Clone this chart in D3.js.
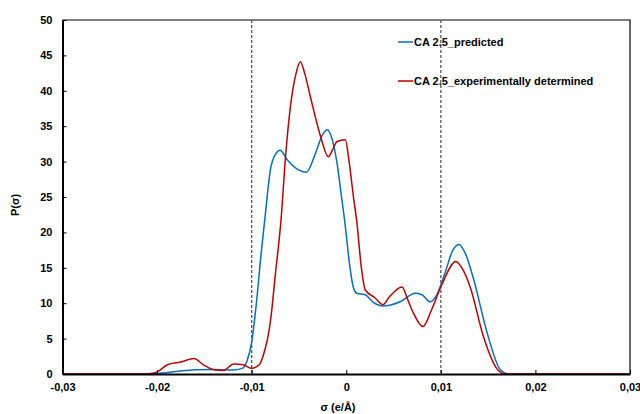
<!DOCTYPE html>
<html>
<head>
<meta charset="utf-8">
<script src="https://cdn.jsdelivr.net/npm/d3@7"></script>
<style>
  body { margin: 0; background: #fff; }
  text { font-family: "Liberation Sans", Arial, sans-serif; font-weight: bold; fill: #000; }
</style>
</head>
<body>
<svg id="chart"></svg>
<script>
// Predicted curve (sigma, P)
const predX = [-0.030, -0.022, -0.020, -0.018, -0.016, -0.014, -0.012, -0.011, -0.0105, -0.010, -0.0095, -0.009, -0.0086, -0.008, -0.0075, -0.0070, -0.0062, -0.0050, -0.0042, -0.0033, -0.0025, -0.0020, -0.0015, -0.0010, -0.0005, -0.0002, 0.0004, 0.0007, 0.0011, 0.0020, 0.0028, 0.0039, 0.0057, 0.0073, 0.0080, 0.0089, 0.0095, 0.0105, 0.0112, 0.0119, 0.0126, 0.0134, 0.0149, 0.0163, 0.0172, 0.030];
const predY = [0, 0, 0.1, 0.35, 0.6, 0.65, 0.55, 0.8, 1.8, 4.5, 10, 17, 22, 29, 31, 31.6, 30.2, 28.8, 28.5, 31, 33.8, 34.5, 33.2, 30, 25, 22, 15, 12.5, 11.4, 11.2, 10.2, 9.6, 10.2, 11.4, 11.2, 10.2, 11, 14.5, 17.3, 18.3, 17, 13.7, 5.8, 0.6, 0, 0];

// Experimentally determined curve
const expX = [-0.030, -0.021, -0.020, -0.0189, -0.0175, -0.0161, -0.0151, -0.0140, -0.0130, -0.0119, -0.0109, -0.0100, -0.0092, -0.0088, -0.0080, -0.0075, -0.0069, -0.0064, -0.0059, -0.0053, -0.00486, -0.0044, -0.0038, -0.0027, -0.0019, -0.0014, -0.0010, -0.0001, 0.0003, 0.0008, 0.0011, 0.0016, 0.0020, 0.0030, 0.0039, 0.0045, 0.0059, 0.0065, 0.0071, 0.0081, 0.0090, 0.0101, 0.0116, 0.0123, 0.0131, 0.0145, 0.0159, 0.0168, 0.030];
const expY = [0, 0, 0.3, 1.3, 1.7, 2.2, 1.3, 0.6, 0.5, 1.4, 1.3, 0.8, 1.3, 2.5, 7.6, 14, 21.7, 31, 37.8, 42.5, 44.1, 42.5, 39.2, 33.5, 30.7, 31.8, 32.8, 33.1, 30, 24.6, 21.7, 15, 11.9, 10.8, 9.8, 10.8, 12.3, 10.5, 8.6, 6.7, 9, 12.6, 15.9, 14.8, 12.3, 5.3, 0.8, 0, 0];

const xTicks = [-0.03, -0.02, -0.01, 0, 0.01, 0.02, 0.03];
const yTicks = [0, 5, 10, 15, 20, 25, 30, 35, 40, 45, 50];
const dashedAt = [-0.01, 0.01];
const seriesNames = ["CA 2.5_predicted", "CA 2.5_experimentally determined"];
const seriesColors = ["#0070C0", "#C00000"];

const W = 640, H = 414;
const margin = { top: 20, right: 10, bottom: 40, left: 62.5 };

const svg = d3.select("#chart").attr("width", W).attr("height", H);

const x = d3.scaleLinear().domain([-0.03, 0.03]).range([margin.left, W - margin.right]);
const y = d3.scaleLinear().domain([0, 50]).range([H - margin.bottom, margin.top]);

const fmt = d => d === 0 ? "0" : d3.format(".2f")(d).replace(".", ",").replace("−", "-");

// top and right frame
svg.append("path")
  .attr("d", `M${x(-0.03)},${y(50)}H${x(0.03)}V${y(0)}`)
  .attr("fill", "none").attr("stroke", "#000").attr("stroke-width", 1.2);

// dashed reference lines
svg.selectAll(".ref").data(dashedAt).enter().append("line")
  .attr("x1", d => x(d)).attr("x2", d => x(d))
  .attr("y1", y(50)).attr("y2", y(0))
  .attr("stroke", "#595959").attr("stroke-width", 1.3).attr("stroke-dasharray", "3,2");

// curves
const line = d3.line().x(d => x(d[0])).y(d => y(d[1])).curve(d3.curveMonotoneX);
const series = [d3.zip(predX, predY), d3.zip(expX, expY)];
svg.selectAll(".curve").data(series).enter().append("path")
  .attr("fill", "none")
  .attr("stroke", (d, i) => seriesColors[i])
  .attr("stroke-width", 1.5)
  .attr("d", line);

// axes
const xAxis = svg.append("g")
  .attr("transform", `translate(0,${y(0)})`)
  .call(d3.axisBottom(x).tickValues(xTicks).tickSizeInner(-4).tickSizeOuter(0).tickFormat(fmt));
const yAxis = svg.append("g")
  .attr("transform", `translate(${x(-0.03)},0)`)
  .call(d3.axisLeft(y).tickValues(yTicks).tickSizeInner(-4).tickSizeOuter(0));

[xAxis, yAxis].forEach(g => {
  g.select(".domain").attr("stroke", "#000").attr("stroke-width", 2);
  g.selectAll(".tick line").attr("stroke", "#000").attr("stroke-width", 1);
  g.selectAll(".tick text").style("font-size", "11px").style("font-family", "Liberation Sans, Arial, sans-serif").style("font-weight", "bold").attr("fill", "#000");
});
xAxis.selectAll(".tick text").attr("y", 9);
yAxis.selectAll(".tick text").attr("x", -10);

// axis titles
svg.append("text")
  .attr("x", 338).attr("y", 411)
  .attr("text-anchor", "middle").style("font-size", "11px")
  .text("σ (e/Å)");
svg.append("text")
  .attr("transform", `translate(19,205) rotate(-90)`)
  .attr("text-anchor", "middle").style("font-size", "11px")
  .text("P(σ)");

// legend
const legend = svg.selectAll(".leg").data(seriesNames).enter().append("g")
  .attr("transform", (d, i) => `translate(398,${42 + i * 39})`);
legend.append("line").attr("x1", 0).attr("x2", 15)
  .attr("stroke", (d, i) => seriesColors[i]).attr("stroke-width", 1.5);
legend.append("text").attr("x", 16).attr("y", 4)
  .style("font-size", "11px").text(d => d);
</script>
</body>
</html>
